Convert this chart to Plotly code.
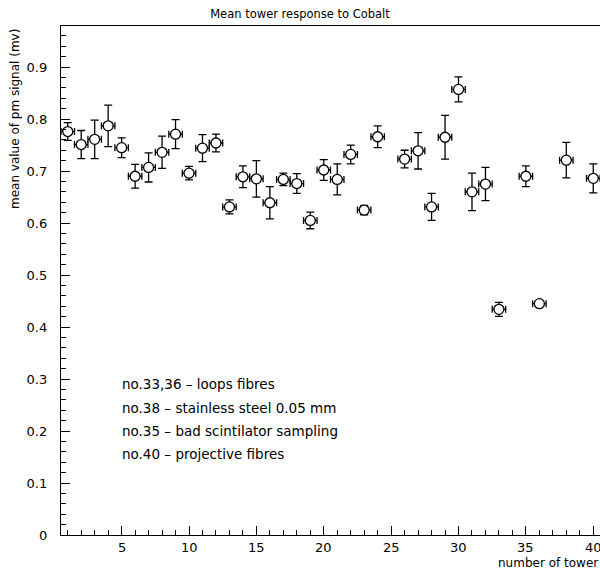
import plotly.graph_objects as go

# Data
towers = [1, 2, 3, 4, 5, 6, 7, 8, 9, 10, 11, 12, 13, 14, 15, 16, 17, 18, 19, 20,
          21, 22, 23, 24, 26, 27, 28, 29, 30, 31, 32, 33, 35, 36, 38, 40]
mean_signal = [0.776, 0.751, 0.761, 0.787, 0.745, 0.690, 0.707, 0.736, 0.771, 0.696,
               0.744, 0.754, 0.631, 0.689, 0.685, 0.639, 0.684, 0.676, 0.605, 0.702,
               0.684, 0.732, 0.625, 0.766, 0.723, 0.739, 0.631, 0.765, 0.857, 0.660,
               0.675, 0.434, 0.690, 0.445, 0.721, 0.686]
signal_err = [0.017, 0.027, 0.037, 0.040, 0.019, 0.023, 0.028, 0.031, 0.028, 0.013,
              0.026, 0.017, 0.0135, 0.021, 0.035, 0.031, 0.012, 0.019, 0.016, 0.020,
              0.030, 0.018, 0.009, 0.021, 0.017, 0.035, 0.026, 0.042, 0.024, 0.036,
              0.032, 0.0135, 0.020, 0.004, 0.034, 0.028]
bin_half_width = [0.5] * len(towers)

x_ticks = [5, 10, 15, 20, 25, 30, 35, 40]
x_tick_labels = ["5", "10", "15", "20", "25", "30", "35", "40"]
y_ticks = [0, 0.1, 0.2, 0.3, 0.4, 0.5, 0.6, 0.7, 0.8, 0.9]
y_tick_labels = ["0", "0.1", "0.2", "0.3", "0.4", "0.5", "0.6", "0.7", "0.8", "0.9"]

notes = ["no.33,36 \u2013 loops fibres",
         "no.38 \u2013 stainless steel 0.05 mm",
         "no.35 \u2013 bad scintilator sampling",
         "no.40 \u2013 projective fibres"]
note_y = [0.290, 0.245, 0.200, 0.156]

FONT = "DejaVu Sans"

fig = go.Figure()
fig.add_trace(go.Scatter(
    x=towers, y=mean_signal, mode="markers",
    marker=dict(symbol="circle", size=10, color="white",
                line=dict(color="black", width=1.3)),
    error_y=dict(type="data", array=signal_err, visible=True,
                 color="black", thickness=1.3, width=4),
    error_x=dict(type="data", array=bin_half_width, visible=True,
                 color="black", thickness=1.3, width=3.5),
    showlegend=False, hoverinfo="skip",
))

annotations = []
for t, yv in zip(notes, note_y):
    annotations.append(dict(x=5, y=yv, xref="x", yref="y", text=t, showarrow=False,
                            xanchor="left", yanchor="middle", xshift=-2,
                            font=dict(family=FONT, size=13.5, color="black")))
# x tick labels, placed on the x axis scale
for v, lab in zip(x_ticks, x_tick_labels):
    annotations.append(dict(x=v, y=0, xref="x", yref="paper", text=lab,
                            showarrow=False, xanchor="center", yanchor="top",
                            yshift=-3, font=dict(family=FONT, size=13, color="black")))
annotations.append(dict(x=-0.0853, y=1, xref="paper", yref="paper",
                        text="mean value of pm signal (mv)", textangle=-90,
                        showarrow=False, xanchor="center", yanchor="top", yshift=-1,
                        font=dict(family=FONT, size=12, color="black")))
annotations.append(dict(x=1, y=-0.055, xref="paper", yref="paper",
                        text="number of tower", showarrow=False,
                        xanchor="right", yanchor="middle", xshift=0,
                        font=dict(family=FONT, size=12, color="black")))

fig.update_layout(
    width=600, height=572,
    margin=dict(l=61, r=0, t=26, b=37, pad=0),
    paper_bgcolor="white", plot_bgcolor="white",
    font=dict(family=FONT, size=13, color="black"),
    title=dict(text="Mean tower response to Cobalt", x=0.5, xref="container",
               xanchor="center", y=1 - 14 / 572, yref="container", yanchor="middle",
               font=dict(family=FONT, size=11.5, color="black")),
    annotations=annotations,
    xaxis=dict(range=[0.5, 40.5], tickmode="array", tickvals=x_ticks,
               showticklabels=False, ticks="inside", ticklen=9,
               tickwidth=1, tickcolor="black", showline=True, linecolor="black",
               linewidth=1.3, mirror=True, showgrid=False, zeroline=False,
               minor=dict(dtick=1, tick0=0, ticks="inside", ticklen=5,
                          tickcolor="black", showgrid=False)),
    yaxis=dict(range=[0, 0.979], tickmode="array", tickvals=y_ticks,
               ticktext=y_tick_labels, ticks="inside", ticklen=9,
               tickwidth=1, tickcolor="black", showline=True, linecolor="black",
               linewidth=1.3, mirror=False, showgrid=False, zeroline=False,
               ticklabelstandoff=10,
               minor=dict(dtick=0.02, tick0=0, ticks="inside", ticklen=5,
                          tickcolor="black", showgrid=False),
               tickfont=dict(family=FONT, size=13, color="black")),
)

fig.write_html("out.html")
